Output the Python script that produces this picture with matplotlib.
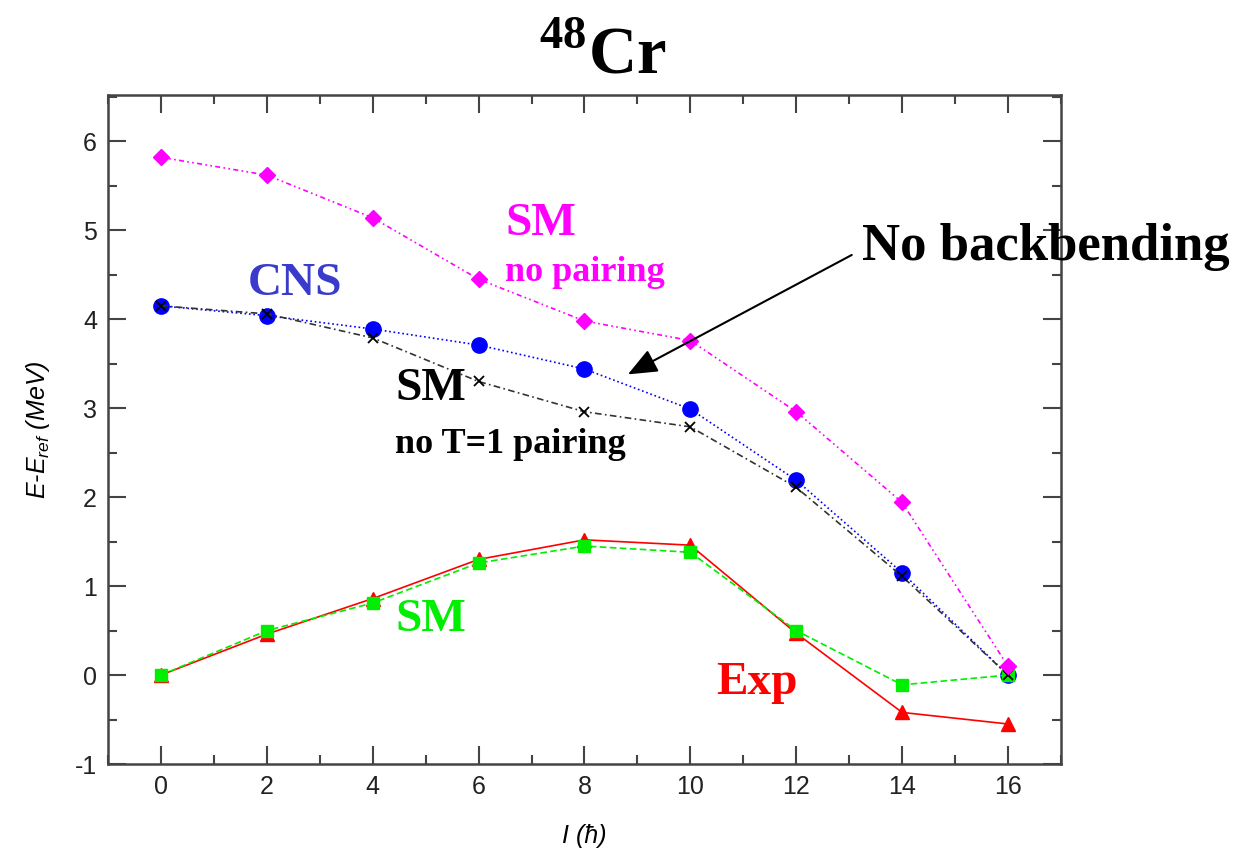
import numpy as np
import matplotlib
matplotlib.use('Agg')
import matplotlib.pyplot as plt
from matplotlib.ticker import MultipleLocator

plt.rcParams['font.family'] = ['Liberation Sans', 'DejaVu Sans']
plt.rcParams['mathtext.fontset'] = 'custom'
plt.rcParams['mathtext.it'] = 'Liberation Sans:italic'
plt.rcParams['mathtext.rm'] = 'Liberation Sans'
plt.rcParams['mathtext.bf'] = 'Liberation Serif:bold'
plt.rcParams['axes.unicode_minus'] = False

# spin values
spin = [0, 2, 4, 6, 8, 10, 12, 14, 16]

# energies (MeV)
sm_no_pairing = [5.82, 5.62, 5.14, 4.45, 3.98, 3.76, 2.96, 1.94, 0.10]
cns = [4.15, 4.04, 3.89, 3.71, 3.44, 2.99, 2.19, 1.15, 0.0]
sm_no_t1 = [4.15, 4.06, 3.79, 3.30, 2.96, 2.79, 2.11, 1.11, 0.0]
exp = [0.0, 0.46, 0.86, 1.30, 1.52, 1.46, 0.47, -0.42, -0.55]
sm = [0.0, 0.50, 0.81, 1.26, 1.45, 1.38, 0.50, -0.11, 0.0]

fig = plt.figure(figsize=(12.4, 8.57), dpi=100)
ax = fig.add_axes([0.0871, 0.1085, 0.7685, 0.7806])

ax.plot(spin, exp, color='red', lw=1.2, ls='-', marker='^', ms=10)
ax.plot(spin, cns, color='blue', lw=1.2, ls=':', marker='o', ms=11)
ax.plot(spin, sm, color='#00ee00', lw=1.2, ls=(0, (4, 2)), marker='s', ms=9)
ax.plot(spin, sm_no_t1, color='#333333', lw=1.2, ls=(0, (4, 2, 1, 2)),
        marker='x', ms=7, mew=1.3, mec='black')
ax.plot(spin, sm_no_pairing, color='magenta', lw=1.2, ls=(0, (3, 2, 1, 2, 1, 2)),
        marker='D', ms=8)

ax.set_xlim(-1, 17)
ax.set_ylim(-1, 6.52)
ax.xaxis.set_major_locator(MultipleLocator(2))
ax.xaxis.set_minor_locator(MultipleLocator(1))
ax.yaxis.set_major_locator(MultipleLocator(1))
ax.yaxis.set_minor_locator(MultipleLocator(0.5))
ax.tick_params(which='both', direction='in', top=True, right=True,
               color='#444444', width=1.5, labelsize=18, labelcolor='#222222')
ax.tick_params(which='major', length=13, pad=8)
ax.tick_params(which='minor', length=6.5)
for s in ax.spines.values():
    s.set_color('#444444')
    s.set_linewidth(1.8)

ax.set_xlabel('I (ħ)', fontsize=18, style='italic', labelpad=18)
ax.set_ylabel('E-E$_{ref}$ (MeV)', fontsize=18, style='italic', labelpad=16)

fig.text(0.486, 0.935, r'$^{\mathbf{48}}$Cr', fontsize=48, fontweight='bold',
         family='Liberation Serif', ha='center', va='center')

serif = 'Liberation Serif'
ax.text(6.5, 5.07, 'SM', color='magenta', fontsize=34, fontweight='bold',
        family=serif, va='center')
ax.text(6.5, 4.53, 'no pairing', color='magenta', fontsize=26, fontweight='bold',
        family=serif, va='center')
ax.text(1.64, 4.40, 'CNS', color='#3a3acc', fontsize=34, fontweight='bold',
        family=serif, va='center')
ax.text(4.42, 3.21, 'SM', color='black', fontsize=34, fontweight='bold',
        family=serif, va='center')
ax.text(4.42, 2.59, 'no T=1 pairing', color='black', fontsize=26, fontweight='bold',
        family=serif, va='center')
ax.text(4.42, 0.62, 'SM', color='#00ee00', fontsize=34, fontweight='bold',
        family=serif, va='center')
ax.text(10.48, -0.09, 'Exp', color='red', fontsize=34, fontweight='bold',
        family=serif, va='center')
ax.annotate('No backbending', xy=(8.82, 3.38), xytext=(13.24, 4.81),
            fontsize=38, fontweight='bold', family=serif, va='center', ha='left',
            annotation_clip=False,
            arrowprops=dict(arrowstyle='-|>,head_length=1.2,head_width=0.5',
                            mutation_scale=15, relpos=(0, 0.45),
                            color='black', lw=1.5, shrinkA=6, shrinkB=0))

fig.savefig('out.png', dpi=100)
